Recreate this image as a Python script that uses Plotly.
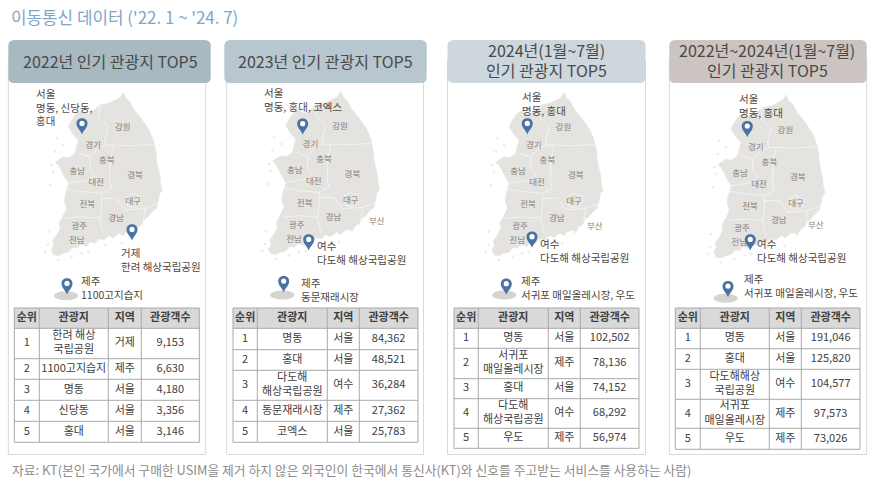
import plotly.graph_objects as go

FONT = "Noto Sans CJK KR"

title_text = "이동통신 데이터 ('22. 1 ~ '24. 7)"
source_text = "자료: KT(본인 국가에서 구매한 USIM을 제거 하지 않은 외국인이 한국에서 통신사(KT)와 신호를 주고받는 서비스를 사용하는 사람)"
table_head = ["순위", "관광지", "지역", "관광객수"]
ranks = [1, 2, 3, 4, 5]

headers = [["2022년 인기 관광지 TOP5"], ["2023년 인기 관광지 TOP5"],
           ["2024년(1월~7월)", "인기 관광지 TOP5"], ["2022년~2024년(1월~7월)", "인기 관광지 TOP5"]]

places_2022 = ["한려 해상<br>국립공원", "1100고지습지", "명동", "신당동", "홍대"]
regions_2022 = ["거제", "제주", "서울", "서울", "서울"]
visitors_2022 = [9153, 6630, 4180, 3356, 3146]

places_2023 = ["명동", "홍대", "다도해<br>해상국립공원", "동문재래시장", "코엑스"]
regions_2023 = ["서울", "서울", "여수", "제주", "서울"]
visitors_2023 = [84362, 48521, 36284, 27362, 25783]

places_2024 = ["명동", "서귀포<br>매일올레시장", "홍대", "다도해<br>해상국립공원", "우도"]
regions_2024 = ["서울", "제주", "서울", "여수", "제주"]
visitors_2024 = [102502, 78136, 74152, 68292, 56974]

places_all = ["명동", "홍대", "다도해해상<br>국립공원", "서귀포<br>매일올레시장", "우도"]
regions_all = ["서울", "서울", "여수", "제주", "제주"]
visitors_all = [191046, 125820, 104577, 97573, 73026]

callouts_2022 = ["서울<br>명동, 신당동,<br>홍대", "거제<br>한려 해상국립공원", "제주<br>1100고지습지"]
callouts_2023 = ["서울<br>명동, 홍대, 코엑스", "여수<br>다도해 해상국립공원", "제주<br>동문재래시장"]
callouts_2024 = ["서울<br>명동, 홍대", "여수<br>다도해 해상국립공원", "제주<br>서귀포 매일올레시장, 우도"]
callouts_all = ["서울<br>명동, 홍대", "여수<br>다도해 해상국립공원", "제주<br>서귀포 매일올레시장, 우도"]

province_names = ["강원", "경기", "충북", "충남", "경북", "대전", "대구", "전북", "경남", "광주", "전남"]

# ---- layout geometry (pixels of the 874x484 canvas) ----
province_xy = [(122.7, 128.3), (93, 146), (106.7, 161), (77.3, 172), (135, 176), (96.3, 182.7),
               (133.3, 201.7), (87.3, 205), (116, 218.7), (79.3, 226.7), (76.7, 241)]

outline_z = [(235, 22), (243, 40), (255, 50), (268, 75), (285, 95), (300, 115), (310, 130), (322, 155), (328, 175),
             (333, 200), (335, 225), (340, 250), (345, 270), (347, 295), (352, 318), (345, 325), (338, 352),
             (335, 370), (322, 380), (310, 395), (300, 402), (290, 420), (280, 425), (268, 445), (262, 436),
             (245, 440), (235, 452), (222, 445), (205, 458), (190, 452), (178, 465), (160, 462), (150, 475),
             (135, 470), (125, 485), (108, 478), (95, 490), (82, 488), (70, 502), (55, 505), (40, 512), (25, 510),
             (18, 495), (26, 480), (22, 468), (35, 450), (45, 430), (42, 415), (50, 400), (58, 385), (65, 370),
             (58, 350), (60, 330), (66, 312), (70, 295), (58, 275), (50, 258), (40, 240), (30, 232), (44, 222),
             (55, 215), (72, 218), (90, 205), (94, 185), (100, 165), (85, 150), (70, 125), (78, 108), (90, 90),
             (100, 82), (110, 75), (122, 86), (135, 85), (150, 72), (165, 60), (190, 55), (210, 45), (225, 38),
             (235, 22)]
borders_z = [
    [(165, 60), (160, 95), (190, 125), (180, 165), (182, 180), (215, 180), (265, 182), (330, 178)],
    [(100, 205), (135, 215), (160, 190), (182, 180)],
    [(135, 215), (135, 250), (150, 270), (135, 285), (105, 290), (70, 295)],
    [(205, 182), (195, 235), (195, 290), (200, 310)],
    [(65, 312), (110, 320), (170, 325), (200, 310)],
    [(170, 325), (170, 370), (165, 400), (175, 445)],
    [(62, 400), (110, 395), (165, 400)],
    [(170, 340), (215, 340), (240, 375), (300, 370), (342, 355)],
    [(300, 370), (295, 410)],
    [(245, 335), (265, 325), (285, 335), (288, 355), (270, 368), (248, 362), (245, 335)],
]
islands_z = [(15, 300), (25, 260), (20, 240), (10, 440), (8, 480), (40, 525), (80, 515), (130, 500), (180, 480),
             (230, 475), (35, 160), (55, 180), (30, 200), (0, 500), (110, 505)]

panels = [
    dict(box=(8.3, 205.7), head=(8.3, 210.7), color="#A8B9C2", cx=110, hy=[61], off=(0, 0), jeju=(66, 295.7),
         col=[14.3, 39.3, 108.3, 141.3, 199.3], row=[308, 328.3, 358.7, 379.3, 400.3, 421.3, 442.3],
         places=places_2022, regions=regions_2022, visitors=visitors_2022, callouts=callouts_2022,
         pins=[(82, 124), (132, 230), (67, 284)], labels=[(33.5, 107), (119.2, 259), (79.2, 287)], busan=None),
    dict(box=(226.7, 423.5), head=(224.3, 426.7), color="#B8C6CF", cx=325.7, hy=[60.7], off=(217.4, -1), jeju=(282.3, 295),
         col=[233, 257.3, 327.3, 359.3, 418], row=[308, 328.3, 349.7, 370.3, 400.3, 421.3, 442.3],
         places=places_2023, regions=regions_2023, visitors=visitors_2023, callouts=callouts_2023,
         pins=[(302.7, 124.3), (308.7, 240), (283.7, 281.7)], labels=[(261.8, 99), (315.2, 252), (298.5, 289)], busan=(376.7, 221.7)),
    dict(box=(447.5, 645.5), head=(447.5, 645.5), color="#CDD7DD", cx=546, hy=[49.7, 69.7], off=(440.7, 0), jeju=(504.3, 295),
         col=[454, 478.3, 548.3, 580.3, 639], row=[308, 328.3, 348.3, 378.7, 398.7, 428.3, 448.3],
         places=places_2024, regions=regions_2024, visitors=visitors_2024, callouts=callouts_2024,
         pins=[(527.3, 124), (532, 237.3), (506.3, 284.3)], labels=[(519.5, 103), (537.5, 250), (518.8, 287)], busan=(594.7, 226.7)),
    dict(box=(669.3, 866.7), head=(669.3, 866.7), color="#CBC4C0", cx=767.3, hy=[49.7, 69.7], off=(662.7, 2.3), jeju=(725.7, 298.3),
         col=[675.3, 700.3, 769.3, 801.3, 860], row=[308, 328.3, 348.7, 369.3, 399.3, 428.3, 449.3],
         places=places_all, regions=regions_all, visitors=visitors_all, callouts=callouts_all,
         pins=[(747.3, 126.7), (750.3, 240), (728, 286.7)], labels=[(736.5, 105.7), (754.8, 250), (741.5, 285.3)], busan=(815.7, 226)),
]


def rounded(x0, y0, x1, y1, r):
    return (f"M{x0+r},{y0} L{x1-r},{y0} Q{x1},{y0} {x1},{y0+r} L{x1},{y1-r} Q{x1},{y1} {x1-r},{y1} "
            f"L{x0+r},{y1} Q{x0},{y1} {x0},{y1-r} L{x0},{y0+r} Q{x0},{y0} {x0+r},{y0} Z")


def pin(x, y):
    return (f"M{x},{y+10.5} C{x-1.5},{y+6} {x-5.5},{y+4} {x-5.5},{y-0.5} C{x-5.5},{y-7.5} {x+5.5},{y-7.5} "
            f"{x+5.5},{y-0.5} C{x+5.5},{y+4} {x+1.5},{y+6} {x},{y+10.5} Z")


fig = go.Figure()
shapes, annos = [], []
LINE = "#A9A9A9"
TXT = "#404040"

annos.append(dict(x=8.5, y=16, text=title_text, showarrow=False, xanchor="left", yanchor="middle",
                  font=dict(family=FONT, size=16.9, color="#7FA6C9")))
annos.append(dict(x=10, y=469, text=source_text, showarrow=False, xanchor="left", yanchor="middle",
                  font=dict(family=FONT, size=12.8, color="#8C8C8C")))

for p, head in zip(panels, headers):
    bx0, bx1 = p["box"]
    shapes.append(dict(type="rect", x0=bx0, x1=bx1, y0=60, y1=454.5, line=dict(color="#D9D9D9", width=1),
                       fillcolor="white", layer="below"))
    shapes.append(dict(type="path", path=rounded(p["head"][0], 40, p["head"][1], 83, 6), fillcolor=p["color"],
                       line=dict(width=0), layer="below"))
    for line_text, hy in zip(head, p["hy"]):
        annos.append(dict(x=p["cx"], y=hy, text=line_text, showarrow=False,
                          font=dict(family=FONT, size=16, color="#4A4A4A")))

    dx, dy = p["off"]
    fig.add_trace(go.Scatter(x=[dx + 45 + a / 3 for a, b in islands_z], y=[dy + 85 + b / 3 for a, b in islands_z],
                             mode="markers", marker=dict(size=2.5, color="#ECEBE9"), hoverinfo="skip"))
    fig.add_trace(go.Scatter(x=[dx + 45 + a / 3 for a, b in outline_z], y=[dy + 85 + b / 3 for a, b in outline_z],
                             mode="lines", fill="toself", fillcolor="#E4E3E0", line=dict(width=0.5, color="#EAE9E7"),
                             hoverinfo="skip"))
    bxs, bys = [], []
    for seg in borders_z:
        bxs += [dx + 45 + a / 3 for a, b in seg] + [None]
        bys += [dy + 85 + b / 3 for a, b in seg] + [None]
    fig.add_trace(go.Scatter(x=bxs, y=bys, mode="lines", line=dict(width=0.8, color="#F6F6F5"), hoverinfo="skip"))

    names = list(province_names)
    nx = [dx + a for a, b in province_xy]
    ny = [dy + b for a, b in province_xy]
    if p["busan"]:
        names.append("부산")
        nx.append(p["busan"][0])
        ny.append(p["busan"][1])
    fig.add_trace(go.Scatter(x=nx, y=ny, text=names, mode="text", hoverinfo="skip",
                             textfont=dict(family=FONT, size=8.5, color="#8B8078")))

    jx, jy = p["jeju"]
    shapes.append(dict(type="circle", x0=jx - 12, x1=jx + 12, y0=jy - 4.5, y1=jy + 4.5, fillcolor="#D6D4D0",
                       line=dict(width=0), layer="below"))
    for (x, y) in p["pins"]:
        shapes.append(dict(type="path", path=pin(x, y), fillcolor="#4A72A4", line=dict(width=0)))
        shapes.append(dict(type="circle", x0=x - 2.6, x1=x + 2.6, y0=y - 3.2, y1=y + 2, fillcolor="white", line=dict(width=0)))
    for (x, y), t in zip(p["labels"], p["callouts"]):
        annos.append(dict(x=x, y=y, text=t, showarrow=False, xanchor="left", yanchor="middle", align="left",
                          font=dict(family=FONT, size=10.5, color="#4F4640")))

    # table
    col, row = p["col"], p["row"]
    shapes.append(dict(type="rect", x0=col[0], x1=col[-1], y0=row[0], y1=row[1], fillcolor="#D9D9D9",
                       line=dict(width=0), layer="below"))
    for c in col:
        shapes.append(dict(type="line", x0=c, x1=c, y0=row[0], y1=row[-1], line=dict(color=LINE, width=1), layer="below"))
    for r in row:
        shapes.append(dict(type="line", x0=col[0], x1=col[-1], y0=r, y1=r, line=dict(color=LINE, width=1), layer="below"))
    tx, ty, tt = [], [], []
    cols_c = [(col[i] + col[i + 1]) / 2 for i in range(4)]
    for cx, t in zip(cols_c, table_head):
        tx.append(cx); ty.append((row[0] + row[1]) / 2); tt.append(f"<b>{t}</b>")
    for i in range(5):
        ym = (row[i + 1] + row[i + 2]) / 2
        cells = [str(ranks[i]), p["places"][i], p["regions"][i], f"{p['visitors'][i]:,}"]
        for cx, t in zip(cols_c, cells):
            tx.append(cx); ty.append(ym); tt.append(t)
    fig.add_trace(go.Scatter(x=tx, y=ty, text=tt, mode="text", textposition="middle center", hoverinfo="skip",
                             textfont=dict(family=FONT, size=11, color=TXT)))

fig.update_layout(
    width=874, height=484, margin=dict(l=0, r=0, t=0, b=0), showlegend=False,
    paper_bgcolor="white", plot_bgcolor="white", shapes=shapes, annotations=annos,
    xaxis=dict(range=[0, 874], visible=False, fixedrange=True),
    yaxis=dict(range=[484, 0], visible=False, fixedrange=True),
)
fig.write_html("out.html", config={"displayModeBar": False},
               post_script="document.documentElement.style.overflow='hidden';document.body.style.margin='0';")
